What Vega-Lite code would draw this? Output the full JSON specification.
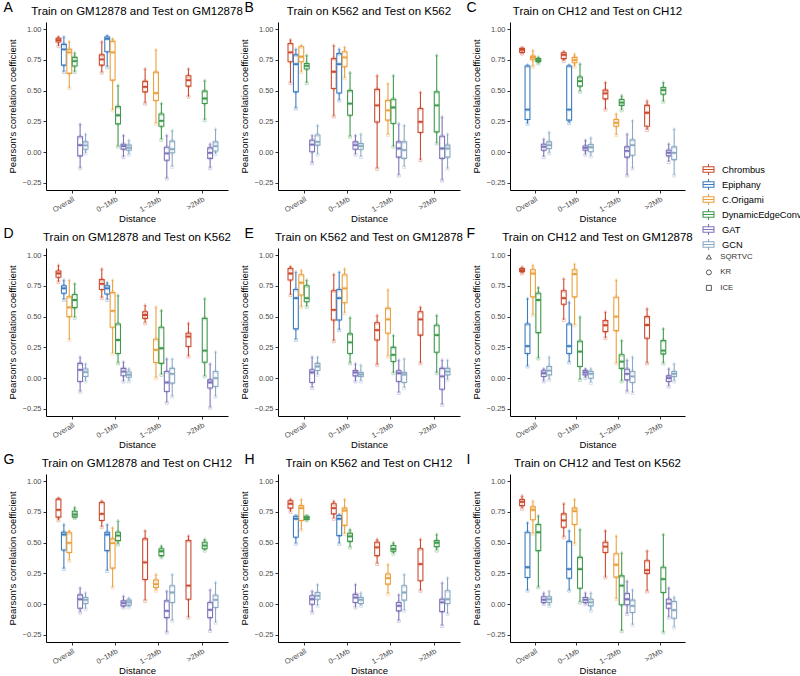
{
"$schema": "https://vega.github.io/schema/vega-lite/v6.json",
"padding": {"left": 3, "top": 0, "right": 0, "bottom": 0},
"datasets": {
"nm": [{"stat":"lo","norm":"ICE"},{"stat":"q1","norm":"SQRTVC"},{"stat":"med","norm":"KR"},{"stat":"q3","norm":"ICE"},{"stat":"hi","norm":"SQRTVC"}],
"box": [
{"p":"A","d":"Overall","m":"Chrombus","lo":0.86,"q1":0.895,"med":0.91,"q3":0.925,"hi":0.94},
{"p":"A","d":"Overall","m":"Epiphany","lo":0.65,"q1":0.707,"med":0.835,"q3":0.875,"hi":0.94},
{"p":"A","d":"Overall","m":"C.Origami","lo":0.52,"q1":0.64,"med":0.81,"q3":0.835,"hi":0.9},
{"p":"A","d":"Overall","m":"DynamicEdgeConv","lo":0.65,"q1":0.7,"med":0.74,"q3":0.77,"hi":0.81},
{"p":"A","d":"Overall","m":"GAT","lo":-0.13,"q1":-0.03,"med":0.057,"q3":0.125,"hi":0.23},
{"p":"A","d":"Overall","m":"GCN","lo":-0.01,"q1":0.024,"med":0.056,"q3":0.084,"hi":0.15},
{"p":"A","d":"0~1Mb","m":"Chrombus","lo":0.645,"q1":0.707,"med":0.753,"q3":0.79,"hi":0.9},
{"p":"A","d":"0~1Mb","m":"Epiphany","lo":0.69,"q1":0.815,"med":0.92,"q3":0.935,"hi":0.95},
{"p":"A","d":"0~1Mb","m":"C.Origami","lo":0.34,"q1":0.585,"med":0.81,"q3":0.9,"hi":0.925},
{"p":"A","d":"0~1Mb","m":"DynamicEdgeConv","lo":0.045,"q1":0.23,"med":0.3,"q3":0.37,"hi":0.545},
{"p":"A","d":"0~1Mb","m":"GAT","lo":-0.04,"q1":0.025,"med":0.05,"q3":0.065,"hi":0.14},
{"p":"A","d":"0~1Mb","m":"GCN","lo":-0.02,"q1":0.016,"med":0.035,"q3":0.057,"hi":0.1},
{"p":"A","d":"1~2Mb","m":"Chrombus","lo":0.395,"q1":0.49,"med":0.53,"q3":0.575,"hi":0.68},
{"p":"A","d":"1~2Mb","m":"C.Origami","lo":0.23,"q1":0.42,"med":0.48,"q3":0.65,"hi":0.835},
{"p":"A","d":"1~2Mb","m":"DynamicEdgeConv","lo":0.1,"q1":0.21,"med":0.255,"q3":0.31,"hi":0.4},
{"p":"A","d":"1~2Mb","m":"GAT","lo":-0.215,"q1":-0.065,"med":-0.01,"q3":0.04,"hi":0.14},
{"p":"A","d":"1~2Mb","m":"GCN","lo":-0.12,"q1":-0.005,"med":0.025,"q3":0.09,"hi":0.18},
{"p":"A","d":">2Mb","m":"Chrombus","lo":0.45,"q1":0.536,"med":0.585,"q3":0.62,"hi":0.68},
{"p":"A","d":">2Mb","m":"DynamicEdgeConv","lo":0.26,"q1":0.395,"med":0.436,"q3":0.496,"hi":0.585},
{"p":"A","d":">2Mb","m":"GAT","lo":-0.13,"q1":-0.05,"med":-0.005,"q3":0.035,"hi":0.07},
{"p":"A","d":">2Mb","m":"GCN","lo":-0.015,"q1":0.01,"med":0.05,"q3":0.084,"hi":0.19},
{"p":"B","d":"Overall","m":"Chrombus","lo":0.56,"q1":0.734,"med":0.81,"q3":0.883,"hi":0.916},
{"p":"B","d":"Overall","m":"Epiphany","lo":0.355,"q1":0.49,"med":0.715,"q3":0.79,"hi":0.84},
{"p":"B","d":"Overall","m":"C.Origami","lo":0.65,"q1":0.734,"med":0.775,"q3":0.856,"hi":0.87},
{"p":"B","d":"Overall","m":"DynamicEdgeConv","lo":0.56,"q1":0.675,"med":0.7,"q3":0.72,"hi":0.79},
{"p":"B","d":"Overall","m":"GAT","lo":-0.09,"q1":0.003,"med":0.062,"q3":0.097,"hi":0.14},
{"p":"B","d":"Overall","m":"GCN","lo":-0.02,"q1":0.057,"med":0.084,"q3":0.14,"hi":0.22},
{"p":"B","d":"0~1Mb","m":"Chrombus","lo":0.29,"q1":0.517,"med":0.653,"q3":0.76,"hi":0.87},
{"p":"B","d":"0~1Mb","m":"Epiphany","lo":0.42,"q1":0.48,"med":0.715,"q3":0.8,"hi":0.84},
{"p":"B","d":"0~1Mb","m":"C.Origami","lo":0.6,"q1":0.694,"med":0.77,"q3":0.816,"hi":0.856},
{"p":"B","d":"0~1Mb","m":"DynamicEdgeConv","lo":0.125,"q1":0.3,"med":0.395,"q3":0.5,"hi":0.65},
{"p":"B","d":"0~1Mb","m":"GAT","lo":-0.02,"q1":0.024,"med":0.057,"q3":0.084,"hi":0.14},
{"p":"B","d":"0~1Mb","m":"GCN","lo":-0.04,"q1":0.024,"med":0.05,"q3":0.07,"hi":0.15},
{"p":"B","d":"1~2Mb","m":"Chrombus","lo":-0.135,"q1":0.245,"med":0.38,"q3":0.51,"hi":0.625},
{"p":"B","d":"1~2Mb","m":"C.Origami","lo":0.14,"q1":0.26,"med":0.34,"q3":0.42,"hi":0.56},
{"p":"B","d":"1~2Mb","m":"DynamicEdgeConv","lo":0.045,"q1":0.233,"med":0.363,"q3":0.43,"hi":0.625},
{"p":"B","d":"1~2Mb","m":"GAT","lo":-0.19,"q1":-0.04,"med":0.03,"q3":0.084,"hi":0.233},
{"p":"B","d":"1~2Mb","m":"GCN","lo":-0.12,"q1":-0.05,"med":0.016,"q3":0.084,"hi":0.22},
{"p":"B","d":">2Mb","m":"Chrombus","lo":-0.065,"q1":0.16,"med":0.246,"q3":0.355,"hi":0.49},
{"p":"B","d":">2Mb","m":"DynamicEdgeConv","lo":0.07,"q1":0.165,"med":0.38,"q3":0.49,"hi":0.79},
{"p":"B","d":">2Mb","m":"GAT","lo":-0.23,"q1":-0.05,"med":0.03,"q3":0.13,"hi":0.29},
{"p":"B","d":">2Mb","m":"GCN","lo":-0.135,"q1":-0.04,"med":0.03,"q3":0.057,"hi":0.15},
{"p":"C","d":"Overall","m":"Chrombus","lo":0.8,"q1":0.81,"med":0.83,"q3":0.843,"hi":0.85},
{"p":"C","d":"Overall","m":"Epiphany","lo":0.23,"q1":0.265,"med":0.346,"q3":0.7,"hi":0.71},
{"p":"C","d":"Overall","m":"C.Origami","lo":0.694,"q1":0.75,"med":0.767,"q3":0.78,"hi":0.83},
{"p":"C","d":"Overall","m":"DynamicEdgeConv","lo":0.72,"q1":0.735,"med":0.748,"q3":0.76,"hi":0.775},
{"p":"C","d":"Overall","m":"GAT","lo":-0.04,"q1":0.016,"med":0.043,"q3":0.065,"hi":0.11},
{"p":"C","d":"Overall","m":"GCN","lo":-0.01,"q1":0.03,"med":0.057,"q3":0.084,"hi":0.165},
{"p":"C","d":"0~1Mb","m":"Chrombus","lo":0.74,"q1":0.76,"med":0.79,"q3":0.807,"hi":0.82},
{"p":"C","d":"0~1Mb","m":"Epiphany","lo":0.235,"q1":0.26,"med":0.346,"q3":0.7,"hi":0.71},
{"p":"C","d":"0~1Mb","m":"C.Origami","lo":0.694,"q1":0.726,"med":0.748,"q3":0.77,"hi":0.8},
{"p":"C","d":"0~1Mb","m":"DynamicEdgeConv","lo":0.49,"q1":0.536,"med":0.577,"q3":0.61,"hi":0.72},
{"p":"C","d":"0~1Mb","m":"GAT","lo":-0.02,"q1":0.016,"med":0.035,"q3":0.05,"hi":0.1},
{"p":"C","d":"0~1Mb","m":"GCN","lo":-0.035,"q1":0.003,"med":0.04,"q3":0.062,"hi":0.12},
{"p":"C","d":"1~2Mb","m":"Chrombus","lo":0.346,"q1":0.433,"med":0.477,"q3":0.504,"hi":0.57},
{"p":"C","d":"1~2Mb","m":"C.Origami","lo":0.138,"q1":0.21,"med":0.238,"q3":0.265,"hi":0.314},
{"p":"C","d":"1~2Mb","m":"DynamicEdgeConv","lo":0.34,"q1":0.38,"med":0.403,"q3":0.428,"hi":0.463},
{"p":"C","d":"1~2Mb","m":"GAT","lo":-0.19,"q1":-0.04,"med":0.01,"q3":0.043,"hi":0.15},
{"p":"C","d":"1~2Mb","m":"GCN","lo":-0.135,"q1":-0.025,"med":0.057,"q3":0.1,"hi":0.26},
{"p":"C","d":">2Mb","m":"Chrombus","lo":0.18,"q1":0.21,"med":0.32,"q3":0.38,"hi":0.42},
{"p":"C","d":">2Mb","m":"DynamicEdgeConv","lo":0.41,"q1":0.47,"med":0.504,"q3":0.525,"hi":0.57},
{"p":"C","d":">2Mb","m":"GAT","lo":-0.08,"q1":-0.03,"med":-0.005,"q3":0.016,"hi":0.07},
{"p":"C","d":">2Mb","m":"GCN","lo":-0.19,"q1":-0.06,"med":-0.005,"q3":0.043,"hi":0.19},
{"p":"D","d":"Overall","m":"Chrombus","lo":0.78,"q1":0.82,"med":0.85,"q3":0.87,"hi":0.92},
{"p":"D","d":"Overall","m":"Epiphany","lo":0.635,"q1":0.69,"med":0.73,"q3":0.75,"hi":0.8},
{"p":"D","d":"Overall","m":"C.Origami","lo":0.31,"q1":0.5,"med":0.575,"q3":0.66,"hi":0.8},
{"p":"D","d":"Overall","m":"DynamicEdgeConv","lo":0.49,"q1":0.573,"med":0.635,"q3":0.68,"hi":0.77},
{"p":"D","d":"Overall","m":"GAT","lo":-0.11,"q1":-0.027,"med":0.068,"q3":0.12,"hi":0.175},
{"p":"D","d":"Overall","m":"GCN","lo":-0.027,"q1":0.014,"med":0.05,"q3":0.075,"hi":0.12},
{"p":"D","d":"0~1Mb","m":"Chrombus","lo":0.65,"q1":0.72,"med":0.765,"q3":0.8,"hi":0.89},
{"p":"D","d":"0~1Mb","m":"Epiphany","lo":0.635,"q1":0.684,"med":0.73,"q3":0.75,"hi":0.78},
{"p":"D","d":"0~1Mb","m":"C.Origami","lo":0.2,"q1":0.413,"med":0.546,"q3":0.695,"hi":0.8},
{"p":"D","d":"0~1Mb","m":"DynamicEdgeConv","lo":0.12,"q1":0.2,"med":0.31,"q3":0.44,"hi":0.676},
{"p":"D","d":"0~1Mb","m":"GAT","lo":-0.027,"q1":0.02,"med":0.054,"q3":0.08,"hi":0.135},
{"p":"D","d":"0~1Mb","m":"GCN","lo":-0.027,"q1":0.008,"med":0.027,"q3":0.05,"hi":0.08},
{"p":"D","d":"1~2Mb","m":"Chrombus","lo":0.446,"q1":0.486,"med":0.513,"q3":0.54,"hi":0.595},
{"p":"D","d":"1~2Mb","m":"C.Origami","lo":0.0,"q1":0.127,"med":0.23,"q3":0.316,"hi":0.58},
{"p":"D","d":"1~2Mb","m":"DynamicEdgeConv","lo":0.027,"q1":0.12,"med":0.243,"q3":0.413,"hi":0.554},
{"p":"D","d":"1~2Mb","m":"GAT","lo":-0.2,"q1":-0.108,"med":-0.035,"q3":0.054,"hi":0.16},
{"p":"D","d":"1~2Mb","m":"GCN","lo":-0.15,"q1":-0.04,"med":0.035,"q3":0.08,"hi":0.16},
{"p":"D","d":">2Mb","m":"Chrombus","lo":0.176,"q1":0.257,"med":0.338,"q3":0.365,"hi":0.45},
{"p":"D","d":">2Mb","m":"DynamicEdgeConv","lo":0.014,"q1":0.13,"med":0.224,"q3":0.486,"hi":0.65},
{"p":"D","d":">2Mb","m":"GAT","lo":-0.24,"q1":-0.08,"med":-0.035,"q3":-0.014,"hi":0.12},
{"p":"D","d":">2Mb","m":"GCN","lo":-0.15,"q1":-0.068,"med":0.0,"q3":0.054,"hi":0.216},
{"p":"E","d":"Overall","m":"Chrombus","lo":0.675,"q1":0.797,"med":0.85,"q3":0.89,"hi":0.91},
{"p":"E","d":"Overall","m":"Epiphany","lo":0.31,"q1":0.4,"med":0.65,"q3":0.72,"hi":0.865},
{"p":"E","d":"Overall","m":"C.Origami","lo":0.575,"q1":0.675,"med":0.775,"q3":0.84,"hi":0.88},
{"p":"E","d":"Overall","m":"DynamicEdgeConv","lo":0.58,"q1":0.62,"med":0.65,"q3":0.75,"hi":0.8},
{"p":"E","d":"Overall","m":"GAT","lo":-0.08,"q1":-0.035,"med":0.046,"q3":0.068,"hi":0.175},
{"p":"E","d":"Overall","m":"GCN","lo":0.027,"q1":0.062,"med":0.095,"q3":0.12,"hi":0.175},
{"p":"E","d":"0~1Mb","m":"Chrombus","lo":0.3,"q1":0.473,"med":0.554,"q3":0.71,"hi":0.846},
{"p":"E","d":"0~1Mb","m":"Epiphany","lo":0.39,"q1":0.473,"med":0.65,"q3":0.72,"hi":0.865},
{"p":"E","d":"0~1Mb","m":"C.Origami","lo":0.527,"q1":0.613,"med":0.73,"q3":0.84,"hi":0.89},
{"p":"E","d":"0~1Mb","m":"DynamicEdgeConv","lo":0.12,"q1":0.2,"med":0.29,"q3":0.36,"hi":0.495},
{"p":"E","d":"0~1Mb","m":"GAT","lo":-0.027,"q1":0.019,"med":0.046,"q3":0.062,"hi":0.12},
{"p":"E","d":"0~1Mb","m":"GCN","lo":-0.027,"q1":0.014,"med":0.03,"q3":0.046,"hi":0.11},
{"p":"E","d":"1~2Mb","m":"Chrombus","lo":0.108,"q1":0.31,"med":0.39,"q3":0.45,"hi":0.513},
{"p":"E","d":"1~2Mb","m":"C.Origami","lo":0.176,"q1":0.365,"med":0.478,"q3":0.567,"hi":0.72},
{"p":"E","d":"1~2Mb","m":"DynamicEdgeConv","lo":0.04,"q1":0.135,"med":0.19,"q3":0.25,"hi":0.35},
{"p":"E","d":"1~2Mb","m":"GAT","lo":-0.12,"q1":-0.027,"med":0.04,"q3":0.06,"hi":0.15},
{"p":"E","d":"1~2Mb","m":"GCN","lo":-0.08,"q1":-0.035,"med":0.03,"q3":0.046,"hi":0.16},
{"p":"E","d":">2Mb","m":"Chrombus","lo":0.12,"q1":0.35,"med":0.478,"q3":0.54,"hi":0.58},
{"p":"E","d":">2Mb","m":"DynamicEdgeConv","lo":0.04,"q1":0.21,"med":0.35,"q3":0.43,"hi":0.513},
{"p":"E","d":">2Mb","m":"GAT","lo":-0.216,"q1":-0.09,"med":0.014,"q3":0.08,"hi":0.15},
{"p":"E","d":">2Mb","m":"GCN","lo":-0.014,"q1":0.027,"med":0.054,"q3":0.08,"hi":0.15},
{"p":"F","d":"Overall","m":"Chrombus","lo":0.85,"q1":0.865,"med":0.878,"q3":0.89,"hi":0.905},
{"p":"F","d":"Overall","m":"Epiphany","lo":0.095,"q1":0.2,"med":0.26,"q3":0.44,"hi":0.65},
{"p":"F","d":"Overall","m":"C.Origami","lo":0.51,"q1":0.66,"med":0.85,"q3":0.88,"hi":0.92},
{"p":"F","d":"Overall","m":"DynamicEdgeConv","lo":0.16,"q1":0.37,"med":0.635,"q3":0.69,"hi":0.74},
{"p":"F","d":"Overall","m":"GAT","lo":-0.027,"q1":0.014,"med":0.04,"q3":0.06,"hi":0.08},
{"p":"F","d":"Overall","m":"GCN","lo":-0.014,"q1":0.027,"med":0.062,"q3":0.095,"hi":0.175},
{"p":"F","d":"0~1Mb","m":"Chrombus","lo":0.473,"q1":0.6,"med":0.65,"q3":0.71,"hi":0.81},
{"p":"F","d":"0~1Mb","m":"Epiphany","lo":0.127,"q1":0.2,"med":0.26,"q3":0.44,"hi":0.62},
{"p":"F","d":"0~1Mb","m":"C.Origami","lo":0.43,"q1":0.66,"med":0.846,"q3":0.88,"hi":0.93},
{"p":"F","d":"0~1Mb","m":"DynamicEdgeConv","lo":-0.014,"q1":0.095,"med":0.216,"q3":0.3,"hi":0.5},
{"p":"F","d":"0~1Mb","m":"GAT","lo":0.0,"q1":0.027,"med":0.046,"q3":0.062,"hi":0.08},
{"p":"F","d":"0~1Mb","m":"GCN","lo":-0.04,"q1":0.0,"med":0.035,"q3":0.054,"hi":0.08},
{"p":"F","d":"1~2Mb","m":"Chrombus","lo":0.325,"q1":0.378,"med":0.43,"q3":0.467,"hi":0.54},
{"p":"F","d":"1~2Mb","m":"C.Origami","lo":0.12,"q1":0.386,"med":0.5,"q3":0.657,"hi":0.8},
{"p":"F","d":"1~2Mb","m":"DynamicEdgeConv","lo":-0.027,"q1":0.08,"med":0.135,"q3":0.19,"hi":0.31},
{"p":"F","d":"1~2Mb","m":"GAT","lo":-0.11,"q1":-0.014,"med":0.035,"q3":0.073,"hi":0.15},
{"p":"F","d":"1~2Mb","m":"GCN","lo":-0.12,"q1":-0.035,"med":0.014,"q3":0.054,"hi":0.175},
{"p":"F","d":">2Mb","m":"Chrombus","lo":0.12,"q1":0.324,"med":0.432,"q3":0.5,"hi":0.567},
{"p":"F","d":">2Mb","m":"DynamicEdgeConv","lo":0.12,"q1":0.197,"med":0.224,"q3":0.305,"hi":0.405},
{"p":"F","d":">2Mb","m":"GAT","lo":-0.068,"q1":-0.027,"med":0.0,"q3":0.019,"hi":0.08},
{"p":"F","d":">2Mb","m":"GCN","lo":-0.027,"q1":0.014,"med":0.035,"q3":0.054,"hi":0.12},
{"p":"G","d":"Overall","m":"Chrombus","lo":0.68,"q1":0.707,"med":0.766,"q3":0.853,"hi":0.864},
{"p":"G","d":"Overall","m":"Epiphany","lo":0.285,"q1":0.44,"med":0.565,"q3":0.584,"hi":0.65},
{"p":"G","d":"Overall","m":"C.Origami","lo":0.353,"q1":0.42,"med":0.497,"q3":0.58,"hi":0.6},
{"p":"G","d":"Overall","m":"DynamicEdgeConv","lo":0.7,"q1":0.707,"med":0.728,"q3":0.755,"hi":0.79},
{"p":"G","d":"Overall","m":"GAT","lo":-0.068,"q1":-0.033,"med":0.04,"q3":0.076,"hi":0.136},
{"p":"G","d":"Overall","m":"GCN","lo":-0.04,"q1":0.005,"med":0.035,"q3":0.054,"hi":0.095},
{"p":"G","d":"0~1Mb","m":"Chrombus","lo":0.625,"q1":0.68,"med":0.733,"q3":0.826,"hi":0.84},
{"p":"G","d":"0~1Mb","m":"Epiphany","lo":0.27,"q1":0.435,"med":0.565,"q3":0.584,"hi":0.65},
{"p":"G","d":"0~1Mb","m":"C.Origami","lo":0.136,"q1":0.293,"med":0.495,"q3":0.53,"hi":0.625},
{"p":"G","d":"0~1Mb","m":"DynamicEdgeConv","lo":0.484,"q1":0.516,"med":0.557,"q3":0.584,"hi":0.68},
{"p":"G","d":"0~1Mb","m":"GAT","lo":-0.027,"q1":-0.014,"med":0.008,"q3":0.027,"hi":0.068},
{"p":"G","d":"0~1Mb","m":"GCN","lo":-0.027,"q1":-0.008,"med":0.014,"q3":0.033,"hi":0.054},
{"p":"G","d":"1~2Mb","m":"Chrombus","lo":0.027,"q1":0.2,"med":0.34,"q3":0.53,"hi":0.6},
{"p":"G","d":"1~2Mb","m":"C.Origami","lo":0.109,"q1":0.136,"med":0.163,"q3":0.196,"hi":0.245},
{"p":"G","d":"1~2Mb","m":"DynamicEdgeConv","lo":0.38,"q1":0.394,"med":0.43,"q3":0.45,"hi":0.476},
{"p":"G","d":"1~2Mb","m":"GAT","lo":-0.23,"q1":-0.109,"med":-0.054,"q3":0.027,"hi":0.109},
{"p":"G","d":"1~2Mb","m":"GCN","lo":-0.136,"q1":0.014,"med":0.095,"q3":0.15,"hi":0.245},
{"p":"G","d":">2Mb","m":"Chrombus","lo":-0.109,"q1":0.04,"med":0.15,"q3":0.516,"hi":0.557},
{"p":"G","d":">2Mb","m":"DynamicEdgeConv","lo":0.435,"q1":0.45,"med":0.476,"q3":0.503,"hi":0.53},
{"p":"G","d":">2Mb","m":"GAT","lo":-0.217,"q1":-0.109,"med":-0.046,"q3":0.014,"hi":0.12},
{"p":"G","d":">2Mb","m":"GCN","lo":-0.15,"q1":-0.027,"med":0.035,"q3":0.073,"hi":0.18},
{"p":"H","d":"Overall","m":"Chrombus","lo":0.75,"q1":0.78,"med":0.815,"q3":0.84,"hi":0.855},
{"p":"H","d":"Overall","m":"Epiphany","lo":0.49,"q1":0.543,"med":0.693,"q3":0.714,"hi":0.72},
{"p":"H","d":"Overall","m":"C.Origami","lo":0.6,"q1":0.68,"med":0.78,"q3":0.8,"hi":0.855},
{"p":"H","d":"Overall","m":"DynamicEdgeConv","lo":0.68,"q1":0.687,"med":0.7,"q3":0.714,"hi":0.72},
{"p":"H","d":"Overall","m":"GAT","lo":-0.068,"q1":0.0,"med":0.04,"q3":0.068,"hi":0.109},
{"p":"H","d":"Overall","m":"GCN","lo":-0.014,"q1":0.04,"med":0.068,"q3":0.095,"hi":0.163},
{"p":"H","d":"0~1Mb","m":"Chrombus","lo":0.693,"q1":0.733,"med":0.78,"q3":0.815,"hi":0.84},
{"p":"H","d":"0~1Mb","m":"Epiphany","lo":0.49,"q1":0.557,"med":0.693,"q3":0.72,"hi":0.73},
{"p":"H","d":"0~1Mb","m":"C.Origami","lo":0.57,"q1":0.64,"med":0.76,"q3":0.78,"hi":0.855},
{"p":"H","d":"0~1Mb","m":"DynamicEdgeConv","lo":0.46,"q1":0.51,"med":0.55,"q3":0.576,"hi":0.61},
{"p":"H","d":"0~1Mb","m":"GAT","lo":-0.027,"q1":0.014,"med":0.054,"q3":0.08,"hi":0.163},
{"p":"H","d":"0~1Mb","m":"GCN","lo":-0.014,"q1":0.005,"med":0.035,"q3":0.054,"hi":0.095},
{"p":"H","d":"1~2Mb","m":"Chrombus","lo":0.326,"q1":0.394,"med":0.462,"q3":0.503,"hi":0.53},
{"p":"H","d":"1~2Mb","m":"C.Origami","lo":0.082,"q1":0.163,"med":0.212,"q3":0.245,"hi":0.326},
{"p":"H","d":"1~2Mb","m":"DynamicEdgeConv","lo":0.41,"q1":0.43,"med":0.448,"q3":0.476,"hi":0.503},
{"p":"H","d":"1~2Mb","m":"GAT","lo":-0.136,"q1":-0.054,"med":-0.014,"q3":0.014,"hi":0.08},
{"p":"H","d":"1~2Mb","m":"GCN","lo":-0.054,"q1":0.033,"med":0.095,"q3":0.15,"hi":0.245},
{"p":"H","d":">2Mb","m":"Chrombus","lo":0.109,"q1":0.19,"med":0.326,"q3":0.45,"hi":0.53},
{"p":"H","d":">2Mb","m":"DynamicEdgeConv","lo":0.435,"q1":0.467,"med":0.497,"q3":0.516,"hi":0.57},
{"p":"H","d":">2Mb","m":"GAT","lo":-0.177,"q1":-0.06,"med":0.014,"q3":0.04,"hi":0.177},
{"p":"H","d":">2Mb","m":"GCN","lo":-0.08,"q1":0.005,"med":0.04,"q3":0.109,"hi":0.217},
{"p":"I","d":"Overall","m":"Chrombus","lo":0.775,"q1":0.8,"med":0.83,"q3":0.85,"hi":0.883},
{"p":"I","d":"Overall","m":"Epiphany","lo":0.11,"q1":0.217,"med":0.3,"q3":0.584,"hi":0.665},
{"p":"I","d":"Overall","m":"C.Origami","lo":0.57,"q1":0.685,"med":0.766,"q3":0.79,"hi":0.84},
{"p":"I","d":"Overall","m":"DynamicEdgeConv","lo":0.136,"q1":0.435,"med":0.584,"q3":0.647,"hi":0.72},
{"p":"I","d":"Overall","m":"GAT","lo":0.0,"q1":0.014,"med":0.035,"q3":0.06,"hi":0.095},
{"p":"I","d":"Overall","m":"GCN","lo":-0.014,"q1":0.014,"med":0.04,"q3":0.06,"hi":0.109},
{"p":"I","d":"0~1Mb","m":"Chrombus","lo":0.543,"q1":0.625,"med":0.68,"q3":0.733,"hi":0.82},
{"p":"I","d":"0~1Mb","m":"Epiphany","lo":0.11,"q1":0.21,"med":0.285,"q3":0.51,"hi":0.6},
{"p":"I","d":"0~1Mb","m":"C.Origami","lo":0.49,"q1":0.647,"med":0.755,"q3":0.78,"hi":0.855},
{"p":"I","d":"0~1Mb","m":"DynamicEdgeConv","lo":0.014,"q1":0.13,"med":0.285,"q3":0.38,"hi":0.61},
{"p":"I","d":"0~1Mb","m":"GAT","lo":0.0,"q1":0.014,"med":0.035,"q3":0.054,"hi":0.095},
{"p":"I","d":"0~1Mb","m":"GCN","lo":-0.054,"q1":-0.014,"med":0.014,"q3":0.04,"hi":0.095},
{"p":"I","d":"1~2Mb","m":"Chrombus","lo":0.217,"q1":0.42,"med":0.467,"q3":0.503,"hi":0.6},
{"p":"I","d":"1~2Mb","m":"C.Origami","lo":0.04,"q1":0.22,"med":0.32,"q3":0.41,"hi":0.557},
{"p":"I","d":"1~2Mb","m":"DynamicEdgeConv","lo":-0.22,"q1":-0.005,"med":0.15,"q3":0.23,"hi":0.42},
{"p":"I","d":"1~2Mb","m":"GAT","lo":-0.08,"q1":-0.005,"med":0.04,"q3":0.087,"hi":0.19},
{"p":"I","d":"1~2Mb","m":"GCN","lo":-0.17,"q1":-0.068,"med":-0.014,"q3":0.033,"hi":0.12},
{"p":"I","d":">2Mb","m":"Chrombus","lo":0.103,"q1":0.25,"med":0.277,"q3":0.353,"hi":0.435},
{"p":"I","d":">2Mb","m":"DynamicEdgeConv","lo":-0.23,"q1":0.095,"med":0.204,"q3":0.3,"hi":0.57},
{"p":"I","d":">2Mb","m":"GAT","lo":-0.109,"q1":-0.033,"med":0.005,"q3":0.04,"hi":0.136},
{"p":"I","d":">2Mb","m":"GCN","lo":-0.19,"q1":-0.114,"med":-0.049,"q3":0.022,"hi":0.06}
]},
"data": {"name": "box"},
"config": {
"font": "Liberation Sans",
"view": {"stroke": null},
"axis": {"grid": false, "labelFont": "Liberation Sans", "titleFont": "Liberation Sans", "labelFontSize": 7.5, "labelColor": "#4d4d4d", "titleFontSize": 9.5, "titleFontWeight": "normal", "titleColor": "#000", "domainColor": "#000", "domainWidth": 1, "tickColor": "#333", "tickSize": 3},
"axisY": {"format": ".2f", "titlePadding": 5, "labelPadding": 2},
"title": {"font": "Liberation Sans", "fontSize": 11.5, "fontWeight": "normal", "color": "#000", "anchor": "middle", "frame": "group", "offset": 0, "dy": 21}
},
"columns": 3,
"spacing": {"row": 58, "column": 50},
"bounds": "flush",
"concat": [
{"width": 182, "height": 168, "title": {"text": "Train on GM12878 and Test on GM12878", "limit": 212}, "transform": [{"filter": "datum.p === 'A'"}], "resolve": {"axis": {"x": "independent"}},
"layer": [
{"mark": {"type": "rule", "strokeWidth": 1.1}, "encoding": {"x": {"field": "d", "type": "nominal", "scale": {"domain": ["Overall", "0~1Mb", "1~2Mb", ">2Mb"], "paddingInner": 0.25, "paddingOuter": 0.225}, "axis": {"orient": "bottom", "title": "Distance", "labelAngle": -30, "labelAlign": "right", "labelBaseline": "top", "labelPadding": 2, "titlePadding": 0}}, "xOffset": {"field": "m", "type": "nominal", "scale": {"domain": ["Chrombus", "Epiphany", "C.Origami", "DynamicEdgeConv", "GAT", "GCN"], "paddingInner": 0.1, "paddingOuter": 0.05}}, "y": {"field": "lo", "type": "quantitative", "scale": {"domain": [-0.307, 1.057], "nice": false, "zero": false}, "title": "Pearson's correlation coefficient", "axis": {"values": [-0.25, 0, 0.25, 0.5, 0.75, 1]}}, "y2": {"field": "hi"}, "stroke": {"field": "m", "type": "nominal", "scale": {"domain": ["Chrombus", "Epiphany", "C.Origami", "DynamicEdgeConv", "GAT", "GCN"], "range": ["#cc4a2e", "#3d7cc0", "#eba13d", "#3f9a4c", "#7f73ba", "#8aaac3"]}, "legend": {"title": null, "orient": "none", "legendX": 656, "legendY": 141, "symbolType": "M-1,-0.5H1V0.5H-1Z M-1,0H1 M0,-0.5V-1 M0,0.5V1", "symbolSize": 120, "symbolStrokeWidth": 1.1, "symbolFillColor": "transparent", "labelFontSize": 9.3, "labelColor": "#000", "rowPadding": -4.2, "labelOffset": 7}}}},
{"mark": {"type": "bar", "fill": "white", "strokeWidth": 1.1}, "encoding": {"x": {"field": "d", "type": "nominal", "scale": {"domain": ["Overall", "0~1Mb", "1~2Mb", ">2Mb"], "paddingInner": 0.25, "paddingOuter": 0.225}, "axis": {"orient": "top", "domain": false, "ticks": false, "labels": false, "title": "A", "titleFontSize": 14, "titleX": -43, "titleY": -11, "titleAlign": "left", "titleBaseline": "alphabetic", "titleAngle": 0}}, "xOffset": {"field": "m", "type": "nominal", "scale": {"domain": ["Chrombus", "Epiphany", "C.Origami", "DynamicEdgeConv", "GAT", "GCN"], "paddingInner": 0.1, "paddingOuter": 0.05}}, "y": {"field": "q1", "type": "quantitative", "scale": {"domain": [-0.307, 1.057], "nice": false, "zero": false}, "title": "Pearson's correlation coefficient", "axis": {"values": [-0.25, 0, 0.25, 0.5, 0.75, 1]}}, "y2": {"field": "q3"}, "stroke": {"field": "m", "type": "nominal", "legend": null}}},
{"mark": {"type": "bar", "fill": "transparent", "strokeWidth": 1.8}, "encoding": {"x": {"field": "d", "type": "nominal", "scale": {"domain": ["Overall", "0~1Mb", "1~2Mb", ">2Mb"], "paddingInner": 0.25, "paddingOuter": 0.225}, "axis": null}, "xOffset": {"field": "m", "type": "nominal", "scale": {"domain": ["Chrombus", "Epiphany", "C.Origami", "DynamicEdgeConv", "GAT", "GCN"], "paddingInner": 0.1, "paddingOuter": 0.05}}, "y": {"field": "med", "type": "quantitative", "scale": {"domain": [-0.307, 1.057], "nice": false, "zero": false}, "title": "Pearson's correlation coefficient", "axis": {"values": [-0.25, 0, 0.25, 0.5, 0.75, 1]}}, "y2": {"field": "med"}, "stroke": {"field": "m", "type": "nominal", "legend": null}}},
{"transform": [{"fold": ["lo", "q1", "med", "q3", "hi"], "as": ["stat", "v"]}, {"lookup": "stat", "from": {"data": {"name": "nm"}, "key": "stat", "fields": ["norm"]}}], "mark": {"type": "point", "filled": false, "size": 9, "strokeWidth": 0.7, "opacity": 0.45}, "encoding": {"x": {"field": "d", "type": "nominal", "scale": {"domain": ["Overall", "0~1Mb", "1~2Mb", ">2Mb"], "paddingInner": 0.25, "paddingOuter": 0.225}, "axis": null}, "xOffset": {"field": "m", "type": "nominal", "scale": {"domain": ["Chrombus", "Epiphany", "C.Origami", "DynamicEdgeConv", "GAT", "GCN"], "paddingInner": 0.1, "paddingOuter": 0.05}}, "y": {"field": "v", "type": "quantitative", "scale": {"domain": [-0.307, 1.057], "nice": false, "zero": false}, "title": "Pearson's correlation coefficient", "axis": {"values": [-0.25, 0, 0.25, 0.5, 0.75, 1]}}, "stroke": {"field": "m", "type": "nominal", "legend": null}, "shape": {"field": "norm", "type": "nominal", "scale": {"domain": ["SQRTVC", "KR", "ICE"], "range": ["triangle-up", "circle", "square"]}, "legend": {"title": null, "orient": "none", "legendX": 659, "legendY": 231, "symbolSize": 25, "symbolStrokeColor": "#333", "symbolFillColor": "transparent", "symbolStrokeWidth": 0.8, "symbolOpacity": 1, "labelFontSize": 7.8, "labelColor": "#333", "rowPadding": 6.5, "labelOffset": 7.5}}}}
]},
{"width": 182, "height": 168, "title": {"text": "Train on K562 and Test on K562"}, "transform": [{"filter": "datum.p === 'B'"}], "resolve": {"axis": {"x": "independent"}},
"layer": [
{"mark": {"type": "rule", "strokeWidth": 1.1}, "encoding": {"x": {"field": "d", "type": "nominal", "scale": {"domain": ["Overall", "0~1Mb", "1~2Mb", ">2Mb"], "paddingInner": 0.25, "paddingOuter": 0.225}, "axis": {"orient": "bottom", "title": "Distance", "labelAngle": -30, "labelAlign": "right", "labelBaseline": "top", "labelPadding": 2, "titlePadding": 0}}, "xOffset": {"field": "m", "type": "nominal", "scale": {"domain": ["Chrombus", "Epiphany", "C.Origami", "DynamicEdgeConv", "GAT", "GCN"], "paddingInner": 0.1, "paddingOuter": 0.05}}, "y": {"field": "lo", "type": "quantitative", "scale": {"domain": [-0.307, 1.057], "nice": false, "zero": false}, "title": "Pearson's correlation coefficient", "axis": {"values": [-0.25, 0, 0.25, 0.5, 0.75, 1]}}, "y2": {"field": "hi"}, "stroke": {"field": "m", "type": "nominal", "scale": {"domain": ["Chrombus", "Epiphany", "C.Origami", "DynamicEdgeConv", "GAT", "GCN"], "range": ["#cc4a2e", "#3d7cc0", "#eba13d", "#3f9a4c", "#7f73ba", "#8aaac3"]}, "legend": {"title": null, "orient": "none", "legendX": 656, "legendY": 141, "symbolType": "M-1,-0.5H1V0.5H-1Z M-1,0H1 M0,-0.5V-1 M0,0.5V1", "symbolSize": 120, "symbolStrokeWidth": 1.1, "symbolFillColor": "transparent", "labelFontSize": 9.3, "labelColor": "#000", "rowPadding": -4.2, "labelOffset": 7}}}},
{"mark": {"type": "bar", "fill": "white", "strokeWidth": 1.1}, "encoding": {"x": {"field": "d", "type": "nominal", "scale": {"domain": ["Overall", "0~1Mb", "1~2Mb", ">2Mb"], "paddingInner": 0.25, "paddingOuter": 0.225}, "axis": {"orient": "top", "domain": false, "ticks": false, "labels": false, "title": "B", "titleFontSize": 14, "titleX": -34, "titleY": -11, "titleAlign": "left", "titleBaseline": "alphabetic", "titleAngle": 0}}, "xOffset": {"field": "m", "type": "nominal", "scale": {"domain": ["Chrombus", "Epiphany", "C.Origami", "DynamicEdgeConv", "GAT", "GCN"], "paddingInner": 0.1, "paddingOuter": 0.05}}, "y": {"field": "q1", "type": "quantitative", "scale": {"domain": [-0.307, 1.057], "nice": false, "zero": false}, "title": "Pearson's correlation coefficient", "axis": {"values": [-0.25, 0, 0.25, 0.5, 0.75, 1]}}, "y2": {"field": "q3"}, "stroke": {"field": "m", "type": "nominal", "legend": null}}},
{"mark": {"type": "bar", "fill": "transparent", "strokeWidth": 1.8}, "encoding": {"x": {"field": "d", "type": "nominal", "scale": {"domain": ["Overall", "0~1Mb", "1~2Mb", ">2Mb"], "paddingInner": 0.25, "paddingOuter": 0.225}, "axis": null}, "xOffset": {"field": "m", "type": "nominal", "scale": {"domain": ["Chrombus", "Epiphany", "C.Origami", "DynamicEdgeConv", "GAT", "GCN"], "paddingInner": 0.1, "paddingOuter": 0.05}}, "y": {"field": "med", "type": "quantitative", "scale": {"domain": [-0.307, 1.057], "nice": false, "zero": false}, "title": "Pearson's correlation coefficient", "axis": {"values": [-0.25, 0, 0.25, 0.5, 0.75, 1]}}, "y2": {"field": "med"}, "stroke": {"field": "m", "type": "nominal", "legend": null}}},
{"transform": [{"fold": ["lo", "q1", "med", "q3", "hi"], "as": ["stat", "v"]}, {"lookup": "stat", "from": {"data": {"name": "nm"}, "key": "stat", "fields": ["norm"]}}], "mark": {"type": "point", "filled": false, "size": 9, "strokeWidth": 0.7, "opacity": 0.45}, "encoding": {"x": {"field": "d", "type": "nominal", "scale": {"domain": ["Overall", "0~1Mb", "1~2Mb", ">2Mb"], "paddingInner": 0.25, "paddingOuter": 0.225}, "axis": null}, "xOffset": {"field": "m", "type": "nominal", "scale": {"domain": ["Chrombus", "Epiphany", "C.Origami", "DynamicEdgeConv", "GAT", "GCN"], "paddingInner": 0.1, "paddingOuter": 0.05}}, "y": {"field": "v", "type": "quantitative", "scale": {"domain": [-0.307, 1.057], "nice": false, "zero": false}, "title": "Pearson's correlation coefficient", "axis": {"values": [-0.25, 0, 0.25, 0.5, 0.75, 1]}}, "stroke": {"field": "m", "type": "nominal", "legend": null}, "shape": {"field": "norm", "type": "nominal", "scale": {"domain": ["SQRTVC", "KR", "ICE"], "range": ["triangle-up", "circle", "square"]}, "legend": {"title": null, "orient": "none", "legendX": 659, "legendY": 231, "symbolSize": 25, "symbolStrokeColor": "#333", "symbolFillColor": "transparent", "symbolStrokeWidth": 0.8, "symbolOpacity": 1, "labelFontSize": 7.8, "labelColor": "#333", "rowPadding": 6.5, "labelOffset": 7.5}}}}
]},
{"width": 175, "height": 168, "title": {"text": "Train on CH12 and Test on CH12"}, "transform": [{"filter": "datum.p === 'C'"}], "resolve": {"axis": {"x": "independent"}},
"layer": [
{"mark": {"type": "rule", "strokeWidth": 1.1}, "encoding": {"x": {"field": "d", "type": "nominal", "scale": {"domain": ["Overall", "0~1Mb", "1~2Mb", ">2Mb"], "paddingInner": 0.25, "paddingOuter": 0.225}, "axis": {"orient": "bottom", "title": "Distance", "labelAngle": -30, "labelAlign": "right", "labelBaseline": "top", "labelPadding": 2, "titlePadding": 0}}, "xOffset": {"field": "m", "type": "nominal", "scale": {"domain": ["Chrombus", "Epiphany", "C.Origami", "DynamicEdgeConv", "GAT", "GCN"], "paddingInner": 0.1, "paddingOuter": 0.05}}, "y": {"field": "lo", "type": "quantitative", "scale": {"domain": [-0.307, 1.057], "nice": false, "zero": false}, "title": "Pearson's correlation coefficient", "axis": {"values": [-0.25, 0, 0.25, 0.5, 0.75, 1]}}, "y2": {"field": "hi"}, "stroke": {"field": "m", "type": "nominal", "scale": {"domain": ["Chrombus", "Epiphany", "C.Origami", "DynamicEdgeConv", "GAT", "GCN"], "range": ["#cc4a2e", "#3d7cc0", "#eba13d", "#3f9a4c", "#7f73ba", "#8aaac3"]}, "legend": {"title": null, "orient": "none", "legendX": 656, "legendY": 141, "symbolType": "M-1,-0.5H1V0.5H-1Z M-1,0H1 M0,-0.5V-1 M0,0.5V1", "symbolSize": 120, "symbolStrokeWidth": 1.1, "symbolFillColor": "transparent", "labelFontSize": 9.3, "labelColor": "#000", "rowPadding": -4.2, "labelOffset": 7}}}},
{"mark": {"type": "bar", "fill": "white", "strokeWidth": 1.1}, "encoding": {"x": {"field": "d", "type": "nominal", "scale": {"domain": ["Overall", "0~1Mb", "1~2Mb", ">2Mb"], "paddingInner": 0.25, "paddingOuter": 0.225}, "axis": {"orient": "top", "domain": false, "ticks": false, "labels": false, "title": "C", "titleFontSize": 14, "titleX": -44, "titleY": -11, "titleAlign": "left", "titleBaseline": "alphabetic", "titleAngle": 0}}, "xOffset": {"field": "m", "type": "nominal", "scale": {"domain": ["Chrombus", "Epiphany", "C.Origami", "DynamicEdgeConv", "GAT", "GCN"], "paddingInner": 0.1, "paddingOuter": 0.05}}, "y": {"field": "q1", "type": "quantitative", "scale": {"domain": [-0.307, 1.057], "nice": false, "zero": false}, "title": "Pearson's correlation coefficient", "axis": {"values": [-0.25, 0, 0.25, 0.5, 0.75, 1]}}, "y2": {"field": "q3"}, "stroke": {"field": "m", "type": "nominal", "legend": null}}},
{"mark": {"type": "bar", "fill": "transparent", "strokeWidth": 1.8}, "encoding": {"x": {"field": "d", "type": "nominal", "scale": {"domain": ["Overall", "0~1Mb", "1~2Mb", ">2Mb"], "paddingInner": 0.25, "paddingOuter": 0.225}, "axis": null}, "xOffset": {"field": "m", "type": "nominal", "scale": {"domain": ["Chrombus", "Epiphany", "C.Origami", "DynamicEdgeConv", "GAT", "GCN"], "paddingInner": 0.1, "paddingOuter": 0.05}}, "y": {"field": "med", "type": "quantitative", "scale": {"domain": [-0.307, 1.057], "nice": false, "zero": false}, "title": "Pearson's correlation coefficient", "axis": {"values": [-0.25, 0, 0.25, 0.5, 0.75, 1]}}, "y2": {"field": "med"}, "stroke": {"field": "m", "type": "nominal", "legend": null}}},
{"transform": [{"fold": ["lo", "q1", "med", "q3", "hi"], "as": ["stat", "v"]}, {"lookup": "stat", "from": {"data": {"name": "nm"}, "key": "stat", "fields": ["norm"]}}], "mark": {"type": "point", "filled": false, "size": 9, "strokeWidth": 0.7, "opacity": 0.45}, "encoding": {"x": {"field": "d", "type": "nominal", "scale": {"domain": ["Overall", "0~1Mb", "1~2Mb", ">2Mb"], "paddingInner": 0.25, "paddingOuter": 0.225}, "axis": null}, "xOffset": {"field": "m", "type": "nominal", "scale": {"domain": ["Chrombus", "Epiphany", "C.Origami", "DynamicEdgeConv", "GAT", "GCN"], "paddingInner": 0.1, "paddingOuter": 0.05}}, "y": {"field": "v", "type": "quantitative", "scale": {"domain": [-0.307, 1.057], "nice": false, "zero": false}, "title": "Pearson's correlation coefficient", "axis": {"values": [-0.25, 0, 0.25, 0.5, 0.75, 1]}}, "stroke": {"field": "m", "type": "nominal", "legend": null}, "shape": {"field": "norm", "type": "nominal", "scale": {"domain": ["SQRTVC", "KR", "ICE"], "range": ["triangle-up", "circle", "square"]}, "legend": {"title": null, "orient": "none", "legendX": 659, "legendY": 231, "symbolSize": 25, "symbolStrokeColor": "#333", "symbolFillColor": "transparent", "symbolStrokeWidth": 0.8, "symbolOpacity": 1, "labelFontSize": 7.8, "labelColor": "#333", "rowPadding": 6.5, "labelOffset": 7.5}}}}
]},
{"width": 182, "height": 168, "title": {"text": "Train on GM12878 and Test on K562"}, "transform": [{"filter": "datum.p === 'D'"}], "resolve": {"axis": {"x": "independent"}},
"layer": [
{"mark": {"type": "rule", "strokeWidth": 1.1}, "encoding": {"x": {"field": "d", "type": "nominal", "scale": {"domain": ["Overall", "0~1Mb", "1~2Mb", ">2Mb"], "paddingInner": 0.25, "paddingOuter": 0.225}, "axis": {"orient": "bottom", "title": "Distance", "labelAngle": -30, "labelAlign": "right", "labelBaseline": "top", "labelPadding": 2, "titlePadding": 0}}, "xOffset": {"field": "m", "type": "nominal", "scale": {"domain": ["Chrombus", "Epiphany", "C.Origami", "DynamicEdgeConv", "GAT", "GCN"], "paddingInner": 0.1, "paddingOuter": 0.05}}, "y": {"field": "lo", "type": "quantitative", "scale": {"domain": [-0.307, 1.057], "nice": false, "zero": false}, "title": "Pearson's correlation coefficient", "axis": {"values": [-0.25, 0, 0.25, 0.5, 0.75, 1]}}, "y2": {"field": "hi"}, "stroke": {"field": "m", "type": "nominal", "scale": {"domain": ["Chrombus", "Epiphany", "C.Origami", "DynamicEdgeConv", "GAT", "GCN"], "range": ["#cc4a2e", "#3d7cc0", "#eba13d", "#3f9a4c", "#7f73ba", "#8aaac3"]}, "legend": {"title": null, "orient": "none", "legendX": 656, "legendY": 141, "symbolType": "M-1,-0.5H1V0.5H-1Z M-1,0H1 M0,-0.5V-1 M0,0.5V1", "symbolSize": 120, "symbolStrokeWidth": 1.1, "symbolFillColor": "transparent", "labelFontSize": 9.3, "labelColor": "#000", "rowPadding": -4.2, "labelOffset": 7}}}},
{"mark": {"type": "bar", "fill": "white", "strokeWidth": 1.1}, "encoding": {"x": {"field": "d", "type": "nominal", "scale": {"domain": ["Overall", "0~1Mb", "1~2Mb", ">2Mb"], "paddingInner": 0.25, "paddingOuter": 0.225}, "axis": {"orient": "top", "domain": false, "ticks": false, "labels": false, "title": "D", "titleFontSize": 14, "titleX": -43, "titleY": -11, "titleAlign": "left", "titleBaseline": "alphabetic", "titleAngle": 0}}, "xOffset": {"field": "m", "type": "nominal", "scale": {"domain": ["Chrombus", "Epiphany", "C.Origami", "DynamicEdgeConv", "GAT", "GCN"], "paddingInner": 0.1, "paddingOuter": 0.05}}, "y": {"field": "q1", "type": "quantitative", "scale": {"domain": [-0.307, 1.057], "nice": false, "zero": false}, "title": "Pearson's correlation coefficient", "axis": {"values": [-0.25, 0, 0.25, 0.5, 0.75, 1]}}, "y2": {"field": "q3"}, "stroke": {"field": "m", "type": "nominal", "legend": null}}},
{"mark": {"type": "bar", "fill": "transparent", "strokeWidth": 1.8}, "encoding": {"x": {"field": "d", "type": "nominal", "scale": {"domain": ["Overall", "0~1Mb", "1~2Mb", ">2Mb"], "paddingInner": 0.25, "paddingOuter": 0.225}, "axis": null}, "xOffset": {"field": "m", "type": "nominal", "scale": {"domain": ["Chrombus", "Epiphany", "C.Origami", "DynamicEdgeConv", "GAT", "GCN"], "paddingInner": 0.1, "paddingOuter": 0.05}}, "y": {"field": "med", "type": "quantitative", "scale": {"domain": [-0.307, 1.057], "nice": false, "zero": false}, "title": "Pearson's correlation coefficient", "axis": {"values": [-0.25, 0, 0.25, 0.5, 0.75, 1]}}, "y2": {"field": "med"}, "stroke": {"field": "m", "type": "nominal", "legend": null}}},
{"transform": [{"fold": ["lo", "q1", "med", "q3", "hi"], "as": ["stat", "v"]}, {"lookup": "stat", "from": {"data": {"name": "nm"}, "key": "stat", "fields": ["norm"]}}], "mark": {"type": "point", "filled": false, "size": 9, "strokeWidth": 0.7, "opacity": 0.45}, "encoding": {"x": {"field": "d", "type": "nominal", "scale": {"domain": ["Overall", "0~1Mb", "1~2Mb", ">2Mb"], "paddingInner": 0.25, "paddingOuter": 0.225}, "axis": null}, "xOffset": {"field": "m", "type": "nominal", "scale": {"domain": ["Chrombus", "Epiphany", "C.Origami", "DynamicEdgeConv", "GAT", "GCN"], "paddingInner": 0.1, "paddingOuter": 0.05}}, "y": {"field": "v", "type": "quantitative", "scale": {"domain": [-0.307, 1.057], "nice": false, "zero": false}, "title": "Pearson's correlation coefficient", "axis": {"values": [-0.25, 0, 0.25, 0.5, 0.75, 1]}}, "stroke": {"field": "m", "type": "nominal", "legend": null}, "shape": {"field": "norm", "type": "nominal", "scale": {"domain": ["SQRTVC", "KR", "ICE"], "range": ["triangle-up", "circle", "square"]}, "legend": {"title": null, "orient": "none", "legendX": 659, "legendY": 231, "symbolSize": 25, "symbolStrokeColor": "#333", "symbolFillColor": "transparent", "symbolStrokeWidth": 0.8, "symbolOpacity": 1, "labelFontSize": 7.8, "labelColor": "#333", "rowPadding": 6.5, "labelOffset": 7.5}}}}
]},
{"width": 182, "height": 168, "title": {"text": "Train on K562 and Test on GM12878"}, "transform": [{"filter": "datum.p === 'E'"}], "resolve": {"axis": {"x": "independent"}},
"layer": [
{"mark": {"type": "rule", "strokeWidth": 1.1}, "encoding": {"x": {"field": "d", "type": "nominal", "scale": {"domain": ["Overall", "0~1Mb", "1~2Mb", ">2Mb"], "paddingInner": 0.25, "paddingOuter": 0.225}, "axis": {"orient": "bottom", "title": "Distance", "labelAngle": -30, "labelAlign": "right", "labelBaseline": "top", "labelPadding": 2, "titlePadding": 0}}, "xOffset": {"field": "m", "type": "nominal", "scale": {"domain": ["Chrombus", "Epiphany", "C.Origami", "DynamicEdgeConv", "GAT", "GCN"], "paddingInner": 0.1, "paddingOuter": 0.05}}, "y": {"field": "lo", "type": "quantitative", "scale": {"domain": [-0.307, 1.057], "nice": false, "zero": false}, "title": "Pearson's correlation coefficient", "axis": {"values": [-0.25, 0, 0.25, 0.5, 0.75, 1]}}, "y2": {"field": "hi"}, "stroke": {"field": "m", "type": "nominal", "scale": {"domain": ["Chrombus", "Epiphany", "C.Origami", "DynamicEdgeConv", "GAT", "GCN"], "range": ["#cc4a2e", "#3d7cc0", "#eba13d", "#3f9a4c", "#7f73ba", "#8aaac3"]}, "legend": {"title": null, "orient": "none", "legendX": 656, "legendY": 141, "symbolType": "M-1,-0.5H1V0.5H-1Z M-1,0H1 M0,-0.5V-1 M0,0.5V1", "symbolSize": 120, "symbolStrokeWidth": 1.1, "symbolFillColor": "transparent", "labelFontSize": 9.3, "labelColor": "#000", "rowPadding": -4.2, "labelOffset": 7}}}},
{"mark": {"type": "bar", "fill": "white", "strokeWidth": 1.1}, "encoding": {"x": {"field": "d", "type": "nominal", "scale": {"domain": ["Overall", "0~1Mb", "1~2Mb", ">2Mb"], "paddingInner": 0.25, "paddingOuter": 0.225}, "axis": {"orient": "top", "domain": false, "ticks": false, "labels": false, "title": "E", "titleFontSize": 14, "titleX": -34, "titleY": -11, "titleAlign": "left", "titleBaseline": "alphabetic", "titleAngle": 0}}, "xOffset": {"field": "m", "type": "nominal", "scale": {"domain": ["Chrombus", "Epiphany", "C.Origami", "DynamicEdgeConv", "GAT", "GCN"], "paddingInner": 0.1, "paddingOuter": 0.05}}, "y": {"field": "q1", "type": "quantitative", "scale": {"domain": [-0.307, 1.057], "nice": false, "zero": false}, "title": "Pearson's correlation coefficient", "axis": {"values": [-0.25, 0, 0.25, 0.5, 0.75, 1]}}, "y2": {"field": "q3"}, "stroke": {"field": "m", "type": "nominal", "legend": null}}},
{"mark": {"type": "bar", "fill": "transparent", "strokeWidth": 1.8}, "encoding": {"x": {"field": "d", "type": "nominal", "scale": {"domain": ["Overall", "0~1Mb", "1~2Mb", ">2Mb"], "paddingInner": 0.25, "paddingOuter": 0.225}, "axis": null}, "xOffset": {"field": "m", "type": "nominal", "scale": {"domain": ["Chrombus", "Epiphany", "C.Origami", "DynamicEdgeConv", "GAT", "GCN"], "paddingInner": 0.1, "paddingOuter": 0.05}}, "y": {"field": "med", "type": "quantitative", "scale": {"domain": [-0.307, 1.057], "nice": false, "zero": false}, "title": "Pearson's correlation coefficient", "axis": {"values": [-0.25, 0, 0.25, 0.5, 0.75, 1]}}, "y2": {"field": "med"}, "stroke": {"field": "m", "type": "nominal", "legend": null}}},
{"transform": [{"fold": ["lo", "q1", "med", "q3", "hi"], "as": ["stat", "v"]}, {"lookup": "stat", "from": {"data": {"name": "nm"}, "key": "stat", "fields": ["norm"]}}], "mark": {"type": "point", "filled": false, "size": 9, "strokeWidth": 0.7, "opacity": 0.45}, "encoding": {"x": {"field": "d", "type": "nominal", "scale": {"domain": ["Overall", "0~1Mb", "1~2Mb", ">2Mb"], "paddingInner": 0.25, "paddingOuter": 0.225}, "axis": null}, "xOffset": {"field": "m", "type": "nominal", "scale": {"domain": ["Chrombus", "Epiphany", "C.Origami", "DynamicEdgeConv", "GAT", "GCN"], "paddingInner": 0.1, "paddingOuter": 0.05}}, "y": {"field": "v", "type": "quantitative", "scale": {"domain": [-0.307, 1.057], "nice": false, "zero": false}, "title": "Pearson's correlation coefficient", "axis": {"values": [-0.25, 0, 0.25, 0.5, 0.75, 1]}}, "stroke": {"field": "m", "type": "nominal", "legend": null}, "shape": {"field": "norm", "type": "nominal", "scale": {"domain": ["SQRTVC", "KR", "ICE"], "range": ["triangle-up", "circle", "square"]}, "legend": {"title": null, "orient": "none", "legendX": 659, "legendY": 231, "symbolSize": 25, "symbolStrokeColor": "#333", "symbolFillColor": "transparent", "symbolStrokeWidth": 0.8, "symbolOpacity": 1, "labelFontSize": 7.8, "labelColor": "#333", "rowPadding": 6.5, "labelOffset": 7.5}}}}
]},
{"width": 175, "height": 168, "title": {"text": "Train on CH12 and Test on GM12878"}, "transform": [{"filter": "datum.p === 'F'"}], "resolve": {"axis": {"x": "independent"}},
"layer": [
{"mark": {"type": "rule", "strokeWidth": 1.1}, "encoding": {"x": {"field": "d", "type": "nominal", "scale": {"domain": ["Overall", "0~1Mb", "1~2Mb", ">2Mb"], "paddingInner": 0.25, "paddingOuter": 0.225}, "axis": {"orient": "bottom", "title": "Distance", "labelAngle": -30, "labelAlign": "right", "labelBaseline": "top", "labelPadding": 2, "titlePadding": 0}}, "xOffset": {"field": "m", "type": "nominal", "scale": {"domain": ["Chrombus", "Epiphany", "C.Origami", "DynamicEdgeConv", "GAT", "GCN"], "paddingInner": 0.1, "paddingOuter": 0.05}}, "y": {"field": "lo", "type": "quantitative", "scale": {"domain": [-0.307, 1.057], "nice": false, "zero": false}, "title": "Pearson's correlation coefficient", "axis": {"values": [-0.25, 0, 0.25, 0.5, 0.75, 1]}}, "y2": {"field": "hi"}, "stroke": {"field": "m", "type": "nominal", "scale": {"domain": ["Chrombus", "Epiphany", "C.Origami", "DynamicEdgeConv", "GAT", "GCN"], "range": ["#cc4a2e", "#3d7cc0", "#eba13d", "#3f9a4c", "#7f73ba", "#8aaac3"]}, "legend": {"title": null, "orient": "none", "legendX": 656, "legendY": 141, "symbolType": "M-1,-0.5H1V0.5H-1Z M-1,0H1 M0,-0.5V-1 M0,0.5V1", "symbolSize": 120, "symbolStrokeWidth": 1.1, "symbolFillColor": "transparent", "labelFontSize": 9.3, "labelColor": "#000", "rowPadding": -4.2, "labelOffset": 7}}}},
{"mark": {"type": "bar", "fill": "white", "strokeWidth": 1.1}, "encoding": {"x": {"field": "d", "type": "nominal", "scale": {"domain": ["Overall", "0~1Mb", "1~2Mb", ">2Mb"], "paddingInner": 0.25, "paddingOuter": 0.225}, "axis": {"orient": "top", "domain": false, "ticks": false, "labels": false, "title": "F", "titleFontSize": 14, "titleX": -44, "titleY": -11, "titleAlign": "left", "titleBaseline": "alphabetic", "titleAngle": 0}}, "xOffset": {"field": "m", "type": "nominal", "scale": {"domain": ["Chrombus", "Epiphany", "C.Origami", "DynamicEdgeConv", "GAT", "GCN"], "paddingInner": 0.1, "paddingOuter": 0.05}}, "y": {"field": "q1", "type": "quantitative", "scale": {"domain": [-0.307, 1.057], "nice": false, "zero": false}, "title": "Pearson's correlation coefficient", "axis": {"values": [-0.25, 0, 0.25, 0.5, 0.75, 1]}}, "y2": {"field": "q3"}, "stroke": {"field": "m", "type": "nominal", "legend": null}}},
{"mark": {"type": "bar", "fill": "transparent", "strokeWidth": 1.8}, "encoding": {"x": {"field": "d", "type": "nominal", "scale": {"domain": ["Overall", "0~1Mb", "1~2Mb", ">2Mb"], "paddingInner": 0.25, "paddingOuter": 0.225}, "axis": null}, "xOffset": {"field": "m", "type": "nominal", "scale": {"domain": ["Chrombus", "Epiphany", "C.Origami", "DynamicEdgeConv", "GAT", "GCN"], "paddingInner": 0.1, "paddingOuter": 0.05}}, "y": {"field": "med", "type": "quantitative", "scale": {"domain": [-0.307, 1.057], "nice": false, "zero": false}, "title": "Pearson's correlation coefficient", "axis": {"values": [-0.25, 0, 0.25, 0.5, 0.75, 1]}}, "y2": {"field": "med"}, "stroke": {"field": "m", "type": "nominal", "legend": null}}},
{"transform": [{"fold": ["lo", "q1", "med", "q3", "hi"], "as": ["stat", "v"]}, {"lookup": "stat", "from": {"data": {"name": "nm"}, "key": "stat", "fields": ["norm"]}}], "mark": {"type": "point", "filled": false, "size": 9, "strokeWidth": 0.7, "opacity": 0.45}, "encoding": {"x": {"field": "d", "type": "nominal", "scale": {"domain": ["Overall", "0~1Mb", "1~2Mb", ">2Mb"], "paddingInner": 0.25, "paddingOuter": 0.225}, "axis": null}, "xOffset": {"field": "m", "type": "nominal", "scale": {"domain": ["Chrombus", "Epiphany", "C.Origami", "DynamicEdgeConv", "GAT", "GCN"], "paddingInner": 0.1, "paddingOuter": 0.05}}, "y": {"field": "v", "type": "quantitative", "scale": {"domain": [-0.307, 1.057], "nice": false, "zero": false}, "title": "Pearson's correlation coefficient", "axis": {"values": [-0.25, 0, 0.25, 0.5, 0.75, 1]}}, "stroke": {"field": "m", "type": "nominal", "legend": null}, "shape": {"field": "norm", "type": "nominal", "scale": {"domain": ["SQRTVC", "KR", "ICE"], "range": ["triangle-up", "circle", "square"]}, "legend": {"title": null, "orient": "none", "legendX": 659, "legendY": 231, "symbolSize": 25, "symbolStrokeColor": "#333", "symbolFillColor": "transparent", "symbolStrokeWidth": 0.8, "symbolOpacity": 1, "labelFontSize": 7.8, "labelColor": "#333", "rowPadding": 6.5, "labelOffset": 7.5}}}}
]},
{"width": 182, "height": 168, "title": {"text": "Train on GM12878 and Test on CH12"}, "transform": [{"filter": "datum.p === 'G'"}], "resolve": {"axis": {"x": "independent"}},
"layer": [
{"mark": {"type": "rule", "strokeWidth": 1.1}, "encoding": {"x": {"field": "d", "type": "nominal", "scale": {"domain": ["Overall", "0~1Mb", "1~2Mb", ">2Mb"], "paddingInner": 0.25, "paddingOuter": 0.225}, "axis": {"orient": "bottom", "title": "Distance", "labelAngle": -30, "labelAlign": "right", "labelBaseline": "top", "labelPadding": 2, "titlePadding": 0}}, "xOffset": {"field": "m", "type": "nominal", "scale": {"domain": ["Chrombus", "Epiphany", "C.Origami", "DynamicEdgeConv", "GAT", "GCN"], "paddingInner": 0.1, "paddingOuter": 0.05}}, "y": {"field": "lo", "type": "quantitative", "scale": {"domain": [-0.307, 1.057], "nice": false, "zero": false}, "title": "Pearson's correlation coefficient", "axis": {"values": [-0.25, 0, 0.25, 0.5, 0.75, 1]}}, "y2": {"field": "hi"}, "stroke": {"field": "m", "type": "nominal", "scale": {"domain": ["Chrombus", "Epiphany", "C.Origami", "DynamicEdgeConv", "GAT", "GCN"], "range": ["#cc4a2e", "#3d7cc0", "#eba13d", "#3f9a4c", "#7f73ba", "#8aaac3"]}, "legend": {"title": null, "orient": "none", "legendX": 656, "legendY": 141, "symbolType": "M-1,-0.5H1V0.5H-1Z M-1,0H1 M0,-0.5V-1 M0,0.5V1", "symbolSize": 120, "symbolStrokeWidth": 1.1, "symbolFillColor": "transparent", "labelFontSize": 9.3, "labelColor": "#000", "rowPadding": -4.2, "labelOffset": 7}}}},
{"mark": {"type": "bar", "fill": "white", "strokeWidth": 1.1}, "encoding": {"x": {"field": "d", "type": "nominal", "scale": {"domain": ["Overall", "0~1Mb", "1~2Mb", ">2Mb"], "paddingInner": 0.25, "paddingOuter": 0.225}, "axis": {"orient": "top", "domain": false, "ticks": false, "labels": false, "title": "G", "titleFontSize": 14, "titleX": -43, "titleY": -11, "titleAlign": "left", "titleBaseline": "alphabetic", "titleAngle": 0}}, "xOffset": {"field": "m", "type": "nominal", "scale": {"domain": ["Chrombus", "Epiphany", "C.Origami", "DynamicEdgeConv", "GAT", "GCN"], "paddingInner": 0.1, "paddingOuter": 0.05}}, "y": {"field": "q1", "type": "quantitative", "scale": {"domain": [-0.307, 1.057], "nice": false, "zero": false}, "title": "Pearson's correlation coefficient", "axis": {"values": [-0.25, 0, 0.25, 0.5, 0.75, 1]}}, "y2": {"field": "q3"}, "stroke": {"field": "m", "type": "nominal", "legend": null}}},
{"mark": {"type": "bar", "fill": "transparent", "strokeWidth": 1.8}, "encoding": {"x": {"field": "d", "type": "nominal", "scale": {"domain": ["Overall", "0~1Mb", "1~2Mb", ">2Mb"], "paddingInner": 0.25, "paddingOuter": 0.225}, "axis": null}, "xOffset": {"field": "m", "type": "nominal", "scale": {"domain": ["Chrombus", "Epiphany", "C.Origami", "DynamicEdgeConv", "GAT", "GCN"], "paddingInner": 0.1, "paddingOuter": 0.05}}, "y": {"field": "med", "type": "quantitative", "scale": {"domain": [-0.307, 1.057], "nice": false, "zero": false}, "title": "Pearson's correlation coefficient", "axis": {"values": [-0.25, 0, 0.25, 0.5, 0.75, 1]}}, "y2": {"field": "med"}, "stroke": {"field": "m", "type": "nominal", "legend": null}}},
{"transform": [{"fold": ["lo", "q1", "med", "q3", "hi"], "as": ["stat", "v"]}, {"lookup": "stat", "from": {"data": {"name": "nm"}, "key": "stat", "fields": ["norm"]}}], "mark": {"type": "point", "filled": false, "size": 9, "strokeWidth": 0.7, "opacity": 0.45}, "encoding": {"x": {"field": "d", "type": "nominal", "scale": {"domain": ["Overall", "0~1Mb", "1~2Mb", ">2Mb"], "paddingInner": 0.25, "paddingOuter": 0.225}, "axis": null}, "xOffset": {"field": "m", "type": "nominal", "scale": {"domain": ["Chrombus", "Epiphany", "C.Origami", "DynamicEdgeConv", "GAT", "GCN"], "paddingInner": 0.1, "paddingOuter": 0.05}}, "y": {"field": "v", "type": "quantitative", "scale": {"domain": [-0.307, 1.057], "nice": false, "zero": false}, "title": "Pearson's correlation coefficient", "axis": {"values": [-0.25, 0, 0.25, 0.5, 0.75, 1]}}, "stroke": {"field": "m", "type": "nominal", "legend": null}, "shape": {"field": "norm", "type": "nominal", "scale": {"domain": ["SQRTVC", "KR", "ICE"], "range": ["triangle-up", "circle", "square"]}, "legend": {"title": null, "orient": "none", "legendX": 659, "legendY": 231, "symbolSize": 25, "symbolStrokeColor": "#333", "symbolFillColor": "transparent", "symbolStrokeWidth": 0.8, "symbolOpacity": 1, "labelFontSize": 7.8, "labelColor": "#333", "rowPadding": 6.5, "labelOffset": 7.5}}}}
]},
{"width": 182, "height": 168, "title": {"text": "Train on K562 and Test on CH12"}, "transform": [{"filter": "datum.p === 'H'"}], "resolve": {"axis": {"x": "independent"}},
"layer": [
{"mark": {"type": "rule", "strokeWidth": 1.1}, "encoding": {"x": {"field": "d", "type": "nominal", "scale": {"domain": ["Overall", "0~1Mb", "1~2Mb", ">2Mb"], "paddingInner": 0.25, "paddingOuter": 0.225}, "axis": {"orient": "bottom", "title": "Distance", "labelAngle": -30, "labelAlign": "right", "labelBaseline": "top", "labelPadding": 2, "titlePadding": 0}}, "xOffset": {"field": "m", "type": "nominal", "scale": {"domain": ["Chrombus", "Epiphany", "C.Origami", "DynamicEdgeConv", "GAT", "GCN"], "paddingInner": 0.1, "paddingOuter": 0.05}}, "y": {"field": "lo", "type": "quantitative", "scale": {"domain": [-0.307, 1.057], "nice": false, "zero": false}, "title": "Pearson's correlation coefficient", "axis": {"values": [-0.25, 0, 0.25, 0.5, 0.75, 1]}}, "y2": {"field": "hi"}, "stroke": {"field": "m", "type": "nominal", "scale": {"domain": ["Chrombus", "Epiphany", "C.Origami", "DynamicEdgeConv", "GAT", "GCN"], "range": ["#cc4a2e", "#3d7cc0", "#eba13d", "#3f9a4c", "#7f73ba", "#8aaac3"]}, "legend": {"title": null, "orient": "none", "legendX": 656, "legendY": 141, "symbolType": "M-1,-0.5H1V0.5H-1Z M-1,0H1 M0,-0.5V-1 M0,0.5V1", "symbolSize": 120, "symbolStrokeWidth": 1.1, "symbolFillColor": "transparent", "labelFontSize": 9.3, "labelColor": "#000", "rowPadding": -4.2, "labelOffset": 7}}}},
{"mark": {"type": "bar", "fill": "white", "strokeWidth": 1.1}, "encoding": {"x": {"field": "d", "type": "nominal", "scale": {"domain": ["Overall", "0~1Mb", "1~2Mb", ">2Mb"], "paddingInner": 0.25, "paddingOuter": 0.225}, "axis": {"orient": "top", "domain": false, "ticks": false, "labels": false, "title": "H", "titleFontSize": 14, "titleX": -34, "titleY": -11, "titleAlign": "left", "titleBaseline": "alphabetic", "titleAngle": 0}}, "xOffset": {"field": "m", "type": "nominal", "scale": {"domain": ["Chrombus", "Epiphany", "C.Origami", "DynamicEdgeConv", "GAT", "GCN"], "paddingInner": 0.1, "paddingOuter": 0.05}}, "y": {"field": "q1", "type": "quantitative", "scale": {"domain": [-0.307, 1.057], "nice": false, "zero": false}, "title": "Pearson's correlation coefficient", "axis": {"values": [-0.25, 0, 0.25, 0.5, 0.75, 1]}}, "y2": {"field": "q3"}, "stroke": {"field": "m", "type": "nominal", "legend": null}}},
{"mark": {"type": "bar", "fill": "transparent", "strokeWidth": 1.8}, "encoding": {"x": {"field": "d", "type": "nominal", "scale": {"domain": ["Overall", "0~1Mb", "1~2Mb", ">2Mb"], "paddingInner": 0.25, "paddingOuter": 0.225}, "axis": null}, "xOffset": {"field": "m", "type": "nominal", "scale": {"domain": ["Chrombus", "Epiphany", "C.Origami", "DynamicEdgeConv", "GAT", "GCN"], "paddingInner": 0.1, "paddingOuter": 0.05}}, "y": {"field": "med", "type": "quantitative", "scale": {"domain": [-0.307, 1.057], "nice": false, "zero": false}, "title": "Pearson's correlation coefficient", "axis": {"values": [-0.25, 0, 0.25, 0.5, 0.75, 1]}}, "y2": {"field": "med"}, "stroke": {"field": "m", "type": "nominal", "legend": null}}},
{"transform": [{"fold": ["lo", "q1", "med", "q3", "hi"], "as": ["stat", "v"]}, {"lookup": "stat", "from": {"data": {"name": "nm"}, "key": "stat", "fields": ["norm"]}}], "mark": {"type": "point", "filled": false, "size": 9, "strokeWidth": 0.7, "opacity": 0.45}, "encoding": {"x": {"field": "d", "type": "nominal", "scale": {"domain": ["Overall", "0~1Mb", "1~2Mb", ">2Mb"], "paddingInner": 0.25, "paddingOuter": 0.225}, "axis": null}, "xOffset": {"field": "m", "type": "nominal", "scale": {"domain": ["Chrombus", "Epiphany", "C.Origami", "DynamicEdgeConv", "GAT", "GCN"], "paddingInner": 0.1, "paddingOuter": 0.05}}, "y": {"field": "v", "type": "quantitative", "scale": {"domain": [-0.307, 1.057], "nice": false, "zero": false}, "title": "Pearson's correlation coefficient", "axis": {"values": [-0.25, 0, 0.25, 0.5, 0.75, 1]}}, "stroke": {"field": "m", "type": "nominal", "legend": null}, "shape": {"field": "norm", "type": "nominal", "scale": {"domain": ["SQRTVC", "KR", "ICE"], "range": ["triangle-up", "circle", "square"]}, "legend": {"title": null, "orient": "none", "legendX": 659, "legendY": 231, "symbolSize": 25, "symbolStrokeColor": "#333", "symbolFillColor": "transparent", "symbolStrokeWidth": 0.8, "symbolOpacity": 1, "labelFontSize": 7.8, "labelColor": "#333", "rowPadding": 6.5, "labelOffset": 7.5}}}}
]},
{"width": 175, "height": 168, "title": {"text": "Train on CH12 and Test on K562"}, "transform": [{"filter": "datum.p === 'I'"}], "resolve": {"axis": {"x": "independent"}},
"layer": [
{"mark": {"type": "rule", "strokeWidth": 1.1}, "encoding": {"x": {"field": "d", "type": "nominal", "scale": {"domain": ["Overall", "0~1Mb", "1~2Mb", ">2Mb"], "paddingInner": 0.25, "paddingOuter": 0.225}, "axis": {"orient": "bottom", "title": "Distance", "labelAngle": -30, "labelAlign": "right", "labelBaseline": "top", "labelPadding": 2, "titlePadding": 0}}, "xOffset": {"field": "m", "type": "nominal", "scale": {"domain": ["Chrombus", "Epiphany", "C.Origami", "DynamicEdgeConv", "GAT", "GCN"], "paddingInner": 0.1, "paddingOuter": 0.05}}, "y": {"field": "lo", "type": "quantitative", "scale": {"domain": [-0.307, 1.057], "nice": false, "zero": false}, "title": "Pearson's correlation coefficient", "axis": {"values": [-0.25, 0, 0.25, 0.5, 0.75, 1]}}, "y2": {"field": "hi"}, "stroke": {"field": "m", "type": "nominal", "scale": {"domain": ["Chrombus", "Epiphany", "C.Origami", "DynamicEdgeConv", "GAT", "GCN"], "range": ["#cc4a2e", "#3d7cc0", "#eba13d", "#3f9a4c", "#7f73ba", "#8aaac3"]}, "legend": {"title": null, "orient": "none", "legendX": 656, "legendY": 141, "symbolType": "M-1,-0.5H1V0.5H-1Z M-1,0H1 M0,-0.5V-1 M0,0.5V1", "symbolSize": 120, "symbolStrokeWidth": 1.1, "symbolFillColor": "transparent", "labelFontSize": 9.3, "labelColor": "#000", "rowPadding": -4.2, "labelOffset": 7}}}},
{"mark": {"type": "bar", "fill": "white", "strokeWidth": 1.1}, "encoding": {"x": {"field": "d", "type": "nominal", "scale": {"domain": ["Overall", "0~1Mb", "1~2Mb", ">2Mb"], "paddingInner": 0.25, "paddingOuter": 0.225}, "axis": {"orient": "top", "domain": false, "ticks": false, "labels": false, "title": "I", "titleFontSize": 14, "titleX": -44, "titleY": -11, "titleAlign": "left", "titleBaseline": "alphabetic", "titleAngle": 0}}, "xOffset": {"field": "m", "type": "nominal", "scale": {"domain": ["Chrombus", "Epiphany", "C.Origami", "DynamicEdgeConv", "GAT", "GCN"], "paddingInner": 0.1, "paddingOuter": 0.05}}, "y": {"field": "q1", "type": "quantitative", "scale": {"domain": [-0.307, 1.057], "nice": false, "zero": false}, "title": "Pearson's correlation coefficient", "axis": {"values": [-0.25, 0, 0.25, 0.5, 0.75, 1]}}, "y2": {"field": "q3"}, "stroke": {"field": "m", "type": "nominal", "legend": null}}},
{"mark": {"type": "bar", "fill": "transparent", "strokeWidth": 1.8}, "encoding": {"x": {"field": "d", "type": "nominal", "scale": {"domain": ["Overall", "0~1Mb", "1~2Mb", ">2Mb"], "paddingInner": 0.25, "paddingOuter": 0.225}, "axis": null}, "xOffset": {"field": "m", "type": "nominal", "scale": {"domain": ["Chrombus", "Epiphany", "C.Origami", "DynamicEdgeConv", "GAT", "GCN"], "paddingInner": 0.1, "paddingOuter": 0.05}}, "y": {"field": "med", "type": "quantitative", "scale": {"domain": [-0.307, 1.057], "nice": false, "zero": false}, "title": "Pearson's correlation coefficient", "axis": {"values": [-0.25, 0, 0.25, 0.5, 0.75, 1]}}, "y2": {"field": "med"}, "stroke": {"field": "m", "type": "nominal", "legend": null}}},
{"transform": [{"fold": ["lo", "q1", "med", "q3", "hi"], "as": ["stat", "v"]}, {"lookup": "stat", "from": {"data": {"name": "nm"}, "key": "stat", "fields": ["norm"]}}], "mark": {"type": "point", "filled": false, "size": 9, "strokeWidth": 0.7, "opacity": 0.45}, "encoding": {"x": {"field": "d", "type": "nominal", "scale": {"domain": ["Overall", "0~1Mb", "1~2Mb", ">2Mb"], "paddingInner": 0.25, "paddingOuter": 0.225}, "axis": null}, "xOffset": {"field": "m", "type": "nominal", "scale": {"domain": ["Chrombus", "Epiphany", "C.Origami", "DynamicEdgeConv", "GAT", "GCN"], "paddingInner": 0.1, "paddingOuter": 0.05}}, "y": {"field": "v", "type": "quantitative", "scale": {"domain": [-0.307, 1.057], "nice": false, "zero": false}, "title": "Pearson's correlation coefficient", "axis": {"values": [-0.25, 0, 0.25, 0.5, 0.75, 1]}}, "stroke": {"field": "m", "type": "nominal", "legend": null}, "shape": {"field": "norm", "type": "nominal", "scale": {"domain": ["SQRTVC", "KR", "ICE"], "range": ["triangle-up", "circle", "square"]}, "legend": {"title": null, "orient": "none", "legendX": 659, "legendY": 231, "symbolSize": 25, "symbolStrokeColor": "#333", "symbolFillColor": "transparent", "symbolStrokeWidth": 0.8, "symbolOpacity": 1, "labelFontSize": 7.8, "labelColor": "#333", "rowPadding": 6.5, "labelOffset": 7.5}}}}
]}
]
}
